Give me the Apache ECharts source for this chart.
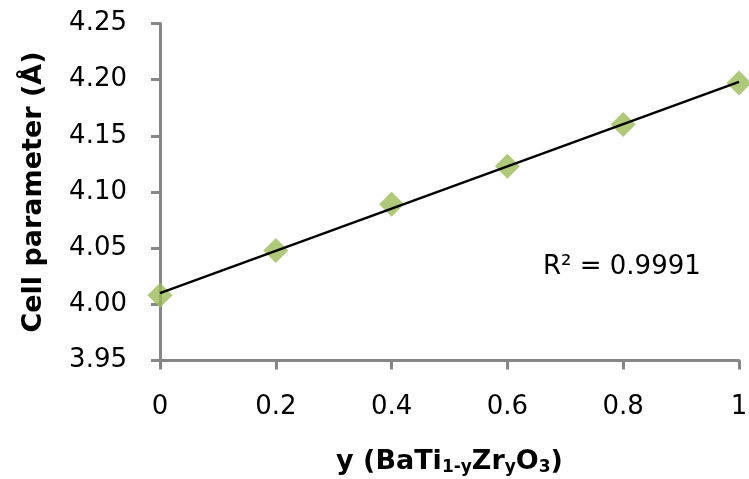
<!DOCTYPE html>
<html>
<head>
<meta charset="utf-8">
<script src="https://cdn.jsdelivr.net/npm/echarts@6/dist/echarts.min.js"></script>
<style>
html,body{margin:0;padding:0;background:#fff;}
#chart{width:749px;height:479px;}
</style>
</head>
<body>
<div id="chart"></div>
<script>
// Data
var xValues = [0, 0.2, 0.4, 0.6, 0.8, 1.0];
var cellParam = [4.008, 4.048, 4.089, 4.123, 4.160, 4.197];
// Linear trendline end points
var trendX = [0, 1];
var trendY = [4.010, 4.198];
var r2Label = 'R\u00B2 = 0.9991';
var yAxisTitle = 'Cell parameter (\u00C5)';

var FONT = 'DejaVu Sans';

var chart = echarts.init(document.getElementById('chart'), null, {renderer: 'canvas'});

var option = {
  backgroundColor: '#ffffff',
  animation: false,
  grid: {left: 160, right: 10, top: 23.5, bottom: 118.5, containLabel: false, outerBoundsMode: 'none'},
  xAxis: {
    type: 'value',
    min: 0, max: 1, interval: 0.2,
    name: 'y (BaTi{s|1-y}Zr{s|y}O{s|3})',
    nameLocation: 'middle',
    nameGap: 86,
    nameTextStyle: {
      fontFamily: FONT, fontSize: 27, fontWeight: 'bold', color: '#000',
      lineHeight: 30,
      rich: {
        s: {fontFamily: FONT, fontSize: 17, fontWeight: 'bold', color: '#000',
            lineHeight: 14, verticalAlign: 'bottom'}
      }
    },
    axisLine: {show: true, lineStyle: {color: '#868686', width: 3}},
    axisTick: {show: true, length: 9, lineStyle: {color: '#868686', width: 3}},
    axisLabel: {
      fontFamily: FONT, fontSize: 26, color: '#000', margin: 34,
      formatter: function (v) { return String(Math.round(v * 10) / 10); }
    },
    splitLine: {show: false}
  },
  yAxis: {
    type: 'value',
    min: 3.95, max: 4.25, interval: 0.05,
    name: yAxisTitle,
    nameLocation: 'middle',
    nameGap: 113,
    nameTextStyle: {fontFamily: FONT, fontSize: 27, fontWeight: 'bold', color: '#000'},
    axisLine: {show: true, lineStyle: {color: '#868686', width: 3}},
    axisTick: {show: true, length: 9, lineStyle: {color: '#868686', width: 3}},
    axisLabel: {
      fontFamily: FONT, fontSize: 26, color: '#000', margin: 33,
      formatter: function (v) { return v.toFixed(2); }
    },
    splitLine: {show: false}
  },
  series: [
    {
      type: 'scatter',
      data: xValues.map(function (x, i) { return [x, cellParam[i]]; }),
      symbol: 'diamond',
      symbolSize: 25,
      itemStyle: {color: '#9BBB59'},
      clip: false,
      z: 3
    },
    {
      type: 'line',
      data: trendX.map(function (x, i) { return [x, trendY[i]]; }),
      symbol: 'none',
      lineStyle: {color: '#000', width: 2.5},
      clip: false,
      z: 4
    }
  ],
  graphic: [
    {
      type: 'text',
      x: 543, y: 267,
      style: {
        text: r2Label,
        fontFamily: FONT, fontSize: 26, fill: '#000',
        verticalAlign: 'middle', align: 'left'
      }
    }
  ]
};
chart.setOption(option);
</script>
</body>
</html>
